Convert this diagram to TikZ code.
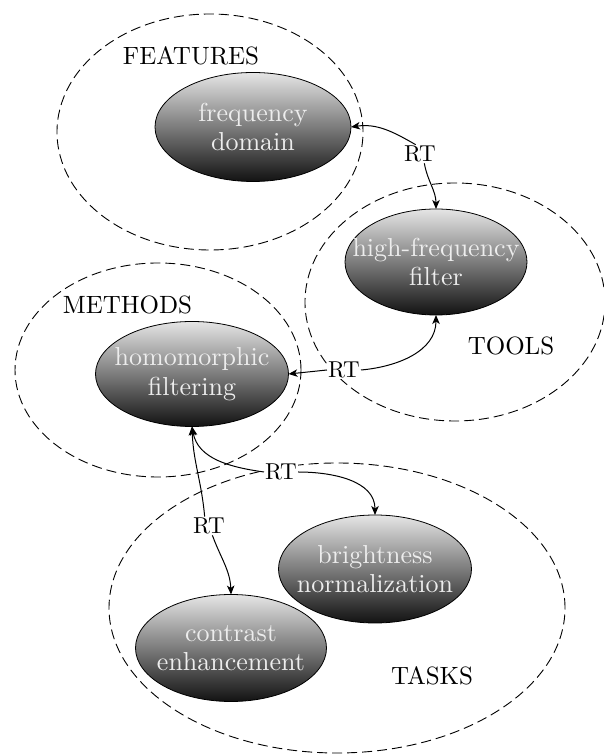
\documentclass[tikz,border=0pt]{standalone}
\usepackage{fontspec}
\setmainfont{lmroman10-regular.otf}[BoldFont=lmroman10-bold.otf, ItalicFont=lmroman10-italic.otf]
\usetikzlibrary{shapes.geometric,arrows.meta}
\begin{document}
\begin{tikzpicture}[x=1pt,y=1pt,
  group/.style={draw, dash pattern=on 10pt off 5pt, line width=0.9pt, ellipse, inner sep=0pt, outer sep=0pt},
  concept/.style={ellipse, draw=black, line width=0.8pt, top color=black!10, bottom color=black!93, inner sep=0pt, outer sep=0pt},
  ctext/.style={text=white!93!black, align=center, inner sep=0pt, font=\fontsize{26}{29.5}\selectfont},
  lab/.style={font=\fontsize{25}{30}\selectfont, inner sep=0pt},
  rel/.style={font=\fontsize{23}{30}\selectfont, inner sep=1pt, fill=white},
  link/.style={line width=1pt, -{Stealth[length=9pt,width=7.5pt,inset=2.5pt]}}
]
\useasboundingbox (0,0) rectangle (603,754);
\fill[white] (0,0) rectangle (603,754);

% group ellipses
\node[group, minimum width=306pt, minimum height=236pt] (gF) at (210,622) {};
\node[group, minimum width=300pt, minimum height=238pt] (gT) at (455,452) {};
\node[group, minimum width=286pt, minimum height=214pt] (gM) at (158,384) {};
\node[group, minimum width=456pt, minimum height=290pt] (gK) at (337,146) {};

% group labels
\node[lab] (lF) at (191,698) {FEATURES};
\node[lab] (lM) at (127.5,449) {METHODS};
\node[lab] (lT) at (511,408) {TOOLS};
\node[lab] (lK) at (432,78) {TASKS};

% concepts
\node[concept, minimum width=196pt, minimum height=109pt] (fd) at (253,627) {};
\node[ctext] (fdt) at (fd) {frequency\\domain};
\node[concept, minimum width=182pt, minimum height=106pt] (hf) at (436,492) {};
\node[ctext] (hft) at (hf) {high-frequency\\filter};
\node[concept, minimum width=193pt, minimum height=105pt] (hm) at (192,380) {};
\node[ctext] (hmt) at (hm) {homomorphic\\filtering};
\node[concept, minimum width=193pt, minimum height=108pt] (bn) at (375,185) {};
\node[ctext] (bnt) at (bn) {brightness\\normalization};
\node[concept, minimum width=191pt, minimum height=107pt] (ce) at (231,106) {};
\node[ctext] (cet) at (ce) {contrast\\enhancement};

% relation labels
\node[rel] (rt1) at (420,600) {RT};
\node[rel] (rt2) at (344,384) {RT};
\node[rel] (rt3) at (281,282) {RT};
\node[rel] (rt4) at (209,228) {RT};

% connectors
\draw[link] (rt1.115) to[out=150,in=8] (fd.east);
\draw[link] (rt1.-65) to[out=-80,in=90] (hf.north);
\draw[link] (rt2.west) -- (hm.east);
\draw[link] (rt2.east) to[out=5,in=-90] (hf.south);
\draw[link] (rt3.west) to[out=172,in=-80] (hm.south);
\draw[link] (rt3.east) to[out=0,in=90] (bn.north);
\draw[link] (rt4.115) to[out=95,in=-88] (hm.south);
\draw[link] (rt4.-70) to[out=-70,in=92] (ce.north);
\end{tikzpicture}
\end{document}
